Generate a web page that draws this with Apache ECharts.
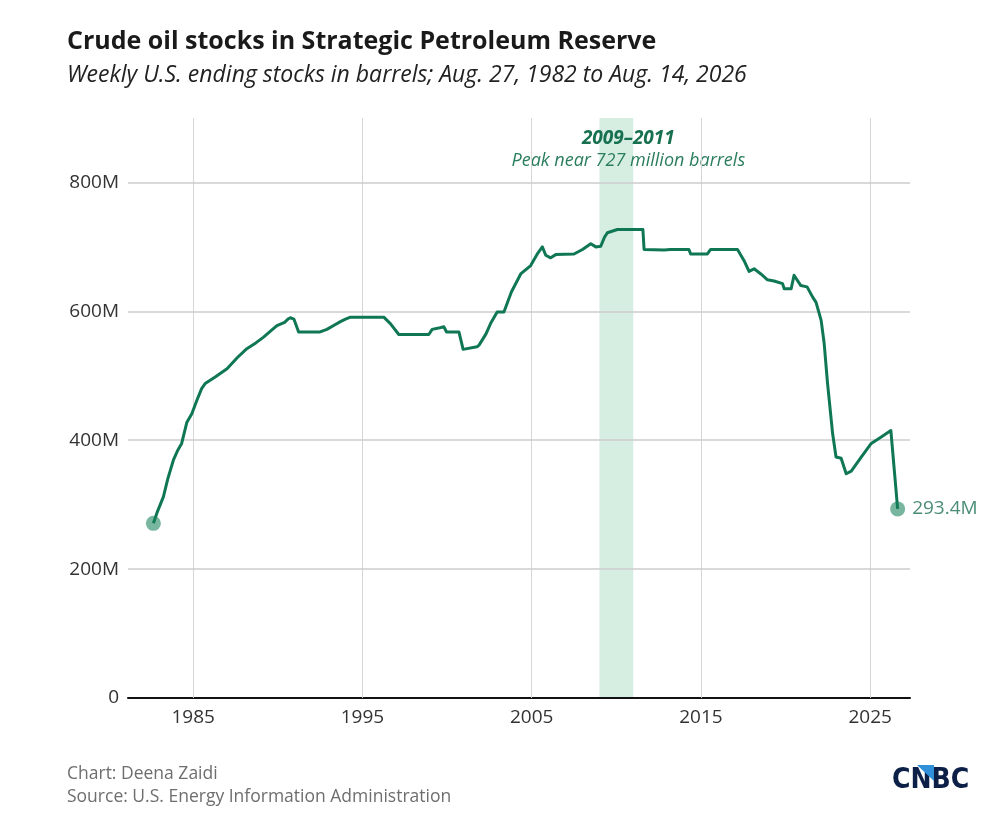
<!DOCTYPE html>
<html><head><meta charset="utf-8">
<script src="https://cdn.jsdelivr.net/npm/echarts@6/dist/echarts.min.js"></script>
<style>html,body{margin:0;padding:0;background:#fff;}#c{width:1000px;height:827px;}</style>
</head><body><div id="c"></div>
<script>
// Weekly SPR ending stocks (million barrels)
const years = [1982.65,1982.9,1983.24,1983.5,1983.83,1984.1,1984.32,1984.63,1984.92,1985.22,1985.5,1985.71,1986.3,1987.0,1987.6,1988.17,1988.7,1989.16,1989.6,1989.95,1990.4,1990.6,1990.74,1990.95,1991.04,1991.23,1992.5,1992.9,1993.3,1993.7,1994.0,1994.29,1996.26,1996.65,1997.15,1998.92,1999.12,1999.5,1999.81,1999.97,2000.7,2000.8,2000.95,2001.77,2001.9,2002.3,2002.57,2002.96,2003.36,2003.8,2004.35,2004.94,2005.33,2005.63,2005.83,2006.12,2006.42,2007.5,2008.0,2008.49,2008.79,2009.08,2009.3,2009.47,2010.06,2011.57,2011.64,2012.82,2013.2,2014.29,2014.39,2015.38,2015.57,2017.16,2017.54,2017.84,2018.14,2018.54,2018.93,2019.32,2019.82,2019.92,2020.33,2020.5,2020.9,2021.27,2021.6,2021.8,2022.1,2022.28,2022.48,2022.78,2022.98,2023.28,2023.58,2023.88,2024.5,2025.06,2025.65,2026.22,2026.62];
const stocks = [271,290,312,340,369,385,395,428,441,462,480,488,498,511,528,542,551,560,570,578,583,588,590,588,586,568,568,572,578,584,588,591,591,581,564,564,572,574,576,568,568,570,541,545,548,565,581,599,599,630,658,671,689,700,687,683,688,689,696,705,700,701,715,722,727,727,696,695,696,696,689,689,696,696,679,662,666,658,649,647,643,635,635,656,640,638,622,614,586,550,488,410,374,372,348,352,375,395,405,415,293.4];
const xTickYears = [1985,1995,2005,2015,2025];
const yTickValues = [0,200,400,600,800];
const gridYValues = [200,400,600,800];
const highlightRange = [2009, 2011];
const highlightTitle = '2009–2011';
const highlightNote = 'Peak near 727 million barrels';

const FONT = '"Open Sans", Lato, sans-serif';
const GREEN = '#0f7753';

const chart = echarts.init(document.getElementById('c'));
const series = years.map((y,i)=>[y, stocks[i]]);
const last = series.length - 1;

chart.setOption({
  animation: false,
  backgroundColor: '#fff',
  textStyle: {fontFamily: FONT},
  title: [
    {text: 'Crude oil stocks in Strategic Petroleum Reserve', left: 62, top: 24,
     textStyle: {fontFamily: FONT, fontSize: 25, fontWeight: 'bold', color: '#1a1a1a'}},
    {text: 'Weekly U.S. ending stocks in barrels; Aug. 27, 1982 to Aug. 14, 2026', left: 62, top: 59,
     textStyle: {fontFamily: FONT, fontSize: 23, fontStyle: 'italic', fontWeight: 'normal', color: '#222'}},
    {text: 'Chart: Deena Zaidi', left: 62, top: 760,
     textStyle: {fontFamily: FONT, fontSize: 17.5, fontWeight: 'normal', color: '#6e6e6e'}},
    {text: 'Source: U.S. Energy Information Administration', left: 62, top: 783,
     textStyle: {fontFamily: FONT, fontSize: 17.5, fontWeight: 'normal', color: '#6e6e6e'}}
  ],
  graphic: [
    {type: 'text', left: 892, top: 767,
     style: {text: 'CNBC', fontFamily: '"Liberation Sans Narrow", "DejaVu Sans Condensed", sans-serif', fontSize: 28, fontWeight: 'bold', fill: '#0c1f47'}},
    {type: 'polygon', shape: {points: [[917,765],[934,765],[934,781]]}, style: {fill: '#2f8fd8'}}
  ],
  grid: {left: 128, right: 90, top: 118, bottom: 129},
  xAxis: {
    type: 'value', min: 1981.15, max: 2027.35,
    axisLine: {show: true, onZero: false, lineStyle: {color: '#111', width: 2}},
    axisTick: {show: false},
    splitLine: {show: false},
    axisLabel: {customValues: xTickYears, fontSize: 19, color: '#333', margin: 10, fontFamily: FONT,
                formatter: v => String(v)}
  },
  yAxis: {
    type: 'value', min: 0, max: 900,
    axisLine: {show: false}, axisTick: {show: false}, splitLine: {show: false},
    axisLabel: {customValues: yTickValues, fontSize: 19, color: '#333', margin: 9, fontFamily: FONT,
                formatter: v => v === 0 ? '0' : v + 'M'}
  },
  series: [
    {
      type: 'line', data: series, showSymbol: false, z: 3,
      lineStyle: {color: GREEN, width: 3, join: 'round'},
      itemStyle: {color: GREEN},
      markArea: {
        silent: true, z: 0,
        itemStyle: {color: '#d5eee1'},
        label: {
          show: true, position: 'insideTop', distance: 10, offset: [12, 0],
          formatter: '{a|' + highlightTitle + '}\n{b|' + highlightNote + '}',
          rich: {
            a: {fontFamily: FONT, fontSize: 19, fontStyle: 'italic', fontWeight: 'bold', color: '#17704f', lineHeight: 22, align: 'center'},
            b: {fontFamily: FONT, fontSize: 18, fontStyle: 'italic', color: '#2a7d5d', lineHeight: 22, align: 'center'}
          }
        },
        data: [[{xAxis: highlightRange[0]}, {xAxis: highlightRange[1]}]]
      },
      markLine: {
        silent: true, symbol: 'none', z: 1, label: {show: false},
        data: xTickYears.map(v => ({xAxis: v, lineStyle: {color: '#d6d6d6', width: 1, type: 'solid'}}))
          .concat(gridYValues.map(v => ({yAxis: v, lineStyle: {color: '#cccccc', width: 1.5, type: 'solid'}})))
      }
    },
    {
      type: 'scatter', z: 4,
      data: [series[0], series[last]],
      symbolSize: 15,
      itemStyle: {color: 'rgba(22,128,88,0.72)'},
      label: {
        show: true, position: 'right', distance: 7, fontSize: 19, color: '#1d6f52', fontFamily: FONT,
        formatter: p => p.dataIndex === 1 ? p.value[1].toFixed(1) + 'M' : ''
      }
    }
  ]
});
</script></body></html>
